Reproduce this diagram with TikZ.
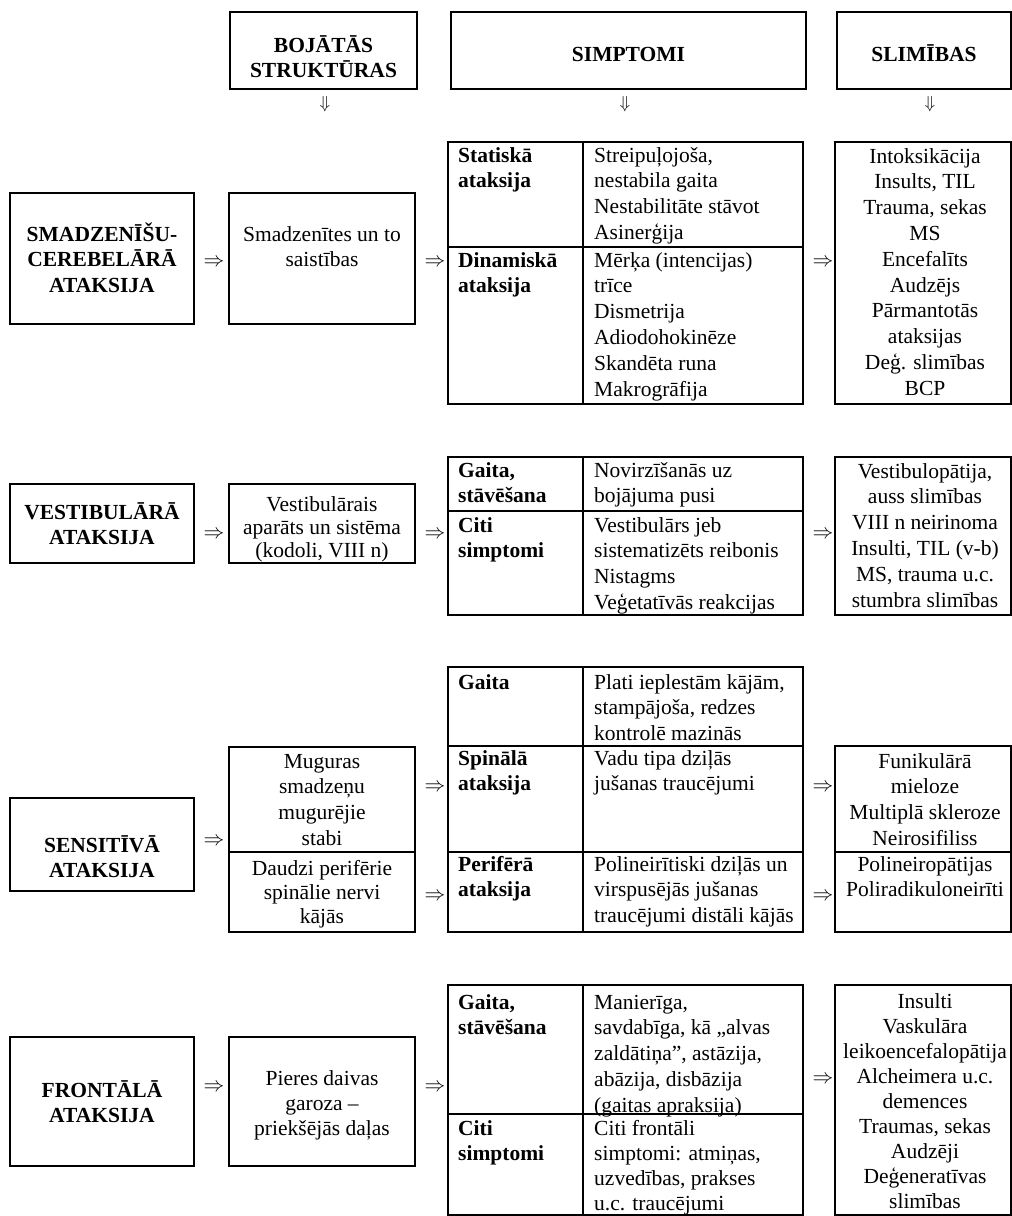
\documentclass[tikz,border=0pt]{standalone}
\usepackage{fontspec}
\setmainfont{Liberation Serif}
\newcommand\myC[1]{\begin{tabular}[t]{@{}c@{}}#1\end{tabular}}
\newcommand\myL[1]{\begin{tabular}[t]{@{}l@{}}#1\end{tabular}}
\begin{document}
\begin{tikzpicture}[x=1pt,y=-1pt,
  box/.style={draw, line width=1.1pt, anchor=north west, inner sep=0, outer sep=0},
  txt/.style={inner sep=0, font=\fontsize{21.5}{25.8}\selectfont},
  tcen/.style={txt, anchor=base},
  tlft/.style={txt, anchor=base west},
  hd/.style={inner sep=0, anchor=base, font=\fontsize{21.5}{25.8}\selectfont\bfseries},
  hdl/.style={inner sep=0, anchor=base west, font=\fontsize{21.5}{25.8}\selectfont\bfseries},
  arr/.style={inner sep=0, font=\fontsize{21}{26}\selectfont},
  darr/.style={inner sep=0, font=\fontsize{18}{20}\selectfont}]
\useasboundingbox (0,0) rectangle (1012,1216);

% ---------- header ----------
\node[box, minimum width=187pt, minimum height=77pt] (hb1) at (230,12) {};
\node[box, minimum width=355pt, minimum height=77pt] (hb2) at (451,12) {};
\node[box, minimum width=174pt, minimum height=77pt] (hb3) at (837,12) {};
\node[hd] (hb1t) at (323.5,52) {\myC{BOJĀTĀS\\STRUKTŪRAS}};
\node[hd] (hb2t) at (628.5,61) {SIMPTOMI};
\node[hd] (hb3t) at (924,61) {SLIMĪBAS};
\node[darr] (dw1) at (325,104) {$\Downarrow$};
\node[darr] (dw2) at (625,104) {$\Downarrow$};
\node[darr] (dw3) at (930,104) {$\Downarrow$};

% ---------- section 1 ----------
\node[box, minimum width=184pt, minimum height=131pt] (a1) at (10,193) {};
\node[box, minimum width=186pt, minimum height=131pt] (s1) at (229,193) {};
\node[box, minimum width=135pt, minimum height=105pt] (t1aL) at (448,142) {};
\node[box, minimum width=220pt, minimum height=105pt] (t1aR) at (583,142) {};
\node[box, minimum width=135pt, minimum height=157pt] (t1bL) at (448,247) {};
\node[box, minimum width=220pt, minimum height=157pt] (t1bR) at (583,247) {};
\node[box, minimum width=176pt, minimum height=262pt] (d1) at (835,142) {};

\node[hd] (a1t) at (102,241) {\myC{SMADZENĪŠU-\\CEREBELĀRĀ\\ATAKSIJA}};
\node[tcen] (s1t) at (322,241) {\myC{Smadzenītes un to\\saistības}};
\node[hdl] (t1aLt) at (458,162) {\myL{Statiskā\\ataksija}};
\node[tlft] (t1aRt) at (594,162) {\myL{Streipuļojoša,\\nestabila gaita\\Nestabilitāte stāvot\\Asinerģija}};
\node[hdl] (t1bLt) at (458,267) {\myL{Dinamiskā\\ataksija}};
\node[tlft] (t1bRt) at (594,267) {\myL{Mērķa (intencijas)\\trīce\\Dismetrija\\Adiodohokinēze\\Skandēta runa\\Makrogrāfija}};
\node[tcen] (d1t) at (925,163) {\myC{Intoksikācija\\Insults, TIL\\Trauma, sekas\\MS\\Encefalīts\\Audzējs\\Pārmantotās\\ataksijas\\Deģ. slimības\\BCP}};
\node[arr] (r1a) at (214,263) {$\Rightarrow$};
\node[arr] (r1b) at (435,263) {$\Rightarrow$};
\node[arr] (r1c) at (823,263) {$\Rightarrow$};

% ---------- section 2 ----------
\node[box, minimum width=184pt, minimum height=79pt] (a2) at (10,484) {};
\node[box, minimum width=186pt, minimum height=79pt] (s2) at (229,484) {};
\node[box, minimum width=135pt, minimum height=54pt] (t2aL) at (448,457) {};
\node[box, minimum width=220pt, minimum height=54pt] (t2aR) at (583,457) {};
\node[box, minimum width=135pt, minimum height=104pt] (t2bL) at (448,511) {};
\node[box, minimum width=220pt, minimum height=104pt] (t2bR) at (583,511) {};
\node[box, minimum width=176pt, minimum height=158pt] (d2) at (835,457) {};

\node[hd] (a2t) at (102,519) {\myC{VESTIBULĀRĀ\\ATAKSIJA}};
\node[tcen, font=\fontsize{21.5}{23.2}\selectfont] (s2t) at (322,511) {\myC{Vestibulārais\\aparāts un sistēma\\(kodoli, VIII n)}};
\node[hdl] (t2aLt) at (458,477) {\myL{Gaita,\\stāvēšana}};
\node[tlft] (t2aRt) at (594,477) {\myL{Novirzīšanās uz\\bojājuma pusi}};
\node[hdl] (t2bLt) at (458,532) {\myL{Citi\\simptomi}};
\node[tlft] (t2bRt) at (594,532) {\myL{Vestibulārs jeb\\sistematizēts reibonis\\Nistagms\\Veģetatīvās reakcijas}};
\node[tcen] (d2t) at (925,478) {\myC{Vestibulopātija,\\auss slimības\\VIII n neirinoma\\Insulti, TIL (v-b)\\MS, trauma u.c.\\stumbra slimības}};
\node[arr] (r2a) at (214,535) {$\Rightarrow$};
\node[arr] (r2b) at (435,535) {$\Rightarrow$};
\node[arr] (r2c) at (823,535) {$\Rightarrow$};

% ---------- section 3 ----------
\node[box, minimum width=184pt, minimum height=93pt] (a3) at (10,798) {};
\node[box, minimum width=186pt, minimum height=105pt] (s3a) at (229,747) {};
\node[box, minimum width=186pt, minimum height=80pt] (s3b) at (229,852) {};
\node[box, minimum width=135pt, minimum height=79pt] (t3aL) at (448,667) {};
\node[box, minimum width=220pt, minimum height=79pt] (t3aR) at (583,667) {};
\node[box, minimum width=135pt, minimum height=106pt] (t3bL) at (448,746) {};
\node[box, minimum width=220pt, minimum height=106pt] (t3bR) at (583,746) {};
\node[box, minimum width=135pt, minimum height=80pt] (t3cL) at (448,852) {};
\node[box, minimum width=220pt, minimum height=80pt] (t3cR) at (583,852) {};
\node[box, minimum width=176pt, minimum height=106pt] (d3a) at (835,746) {};
\node[box, minimum width=176pt, minimum height=80pt] (d3b) at (835,852) {};

\node[hd] (a3t) at (102,852) {\myC{SENSITĪVĀ\\ATAKSIJA}};
\node[tcen] (s3at) at (322,768) {\myC{Muguras\\smadzeņu\\mugurējie\\stabi}};
\node[tcen, font=\fontsize{21.5}{24}\selectfont] (s3bt) at (322,875) {\myC{Daudzi perifērie\\spinālie nervi\\kājās}};
\node[hdl] (t3aLt) at (458,689) {\myL{Gaita}};
\node[tlft] (t3aRt) at (594,689) {\myL{Plati ieplestām kājām,\\stampājoša, redzes\\kontrolē mazinās}};
\node[hdl] (t3bLt) at (458,765) {\myL{Spinālā\\ataksija}};
\node[tlft] (t3bRt) at (594,765) {\myL{Vadu tipa dziļās\\jušanas traucējumi}};
\node[hdl] (t3cLt) at (458,871) {\myL{Perifērā\\ataksija}};
\node[tlft] (t3cRt) at (594,871) {\myL{Polineirītiski dziļās un\\virspusējās jušanas\\traucējumi distāli kājās}};
\node[tcen] (d3at) at (925,768) {\myC{Funikulārā\\mieloze\\Multiplā skleroze\\Neirosifiliss}};
\node[tcen] (d3bt) at (925,871) {\myC{Polineiropātijas\\Poliradikuloneirīti}};
\node[arr] (r3a) at (214,842) {$\Rightarrow$};
\node[arr] (r3b) at (435,788) {$\Rightarrow$};
\node[arr] (r3c) at (435,897) {$\Rightarrow$};
\node[arr] (r3d) at (823,788) {$\Rightarrow$};
\node[arr] (r3e) at (823,897) {$\Rightarrow$};

% ---------- section 4 ----------
\node[box, minimum width=184pt, minimum height=129pt] (a4) at (10,1037) {};
\node[box, minimum width=186pt, minimum height=129pt] (s4) at (229,1037) {};
\node[box, minimum width=135pt, minimum height=129pt] (t4aL) at (448,985) {};
\node[box, minimum width=220pt, minimum height=129pt] (t4aR) at (583,985) {};
\node[box, minimum width=135pt, minimum height=101pt] (t4bL) at (448,1114) {};
\node[box, minimum width=220pt, minimum height=101pt] (t4bR) at (583,1114) {};
\node[box, minimum width=176pt, minimum height=230pt] (d4) at (835,985) {};

\node[hd] (a4t) at (102,1097) {\myC{FRONTĀLĀ\\ATAKSIJA}};
\node[tcen, font=\fontsize{21.5}{25}\selectfont] (s4t) at (322,1085) {\myC{Pieres daivas\\garoza –\\priekšējās daļas}};
\node[hdl] (t4aLt) at (458,1009) {\myL{Gaita,\\stāvēšana}};
\node[tlft] (t4aRt) at (594,1009) {\myL{Manierīga,\\savdabīga, kā „alvas\\zaldātiņa”, astāzija,\\abāzija, disbāzija\\(gaitas apraksija)}};
\node[hdl, font=\fontsize{21.5}{25.3}\selectfont\bfseries] (t4bLt) at (458,1135) {\myL{Citi\\simptomi}};
\node[tlft, font=\fontsize{21.5}{25.3}\selectfont] (t4bRt) at (594,1135) {\myL{Citi frontāli\\simptomi: atmiņas,\\uzvedības, prakses\\u.c. traucējumi}};
\node[tcen, font=\fontsize{21.5}{25.1}\selectfont] (d4t) at (925,1008) {\myC{Insulti\\Vaskulāra\\leikoencefalopātija\\Alcheimera u.c.\\demences\\Traumas, sekas\\Audzēji\\Deģeneratīvas\\slimības}};
\node[arr] (r4a) at (214,1088) {$\Rightarrow$};
\node[arr] (r4b) at (435,1088) {$\Rightarrow$};
\node[arr] (r4c) at (823,1080) {$\Rightarrow$};
\end{tikzpicture}
\end{document}
